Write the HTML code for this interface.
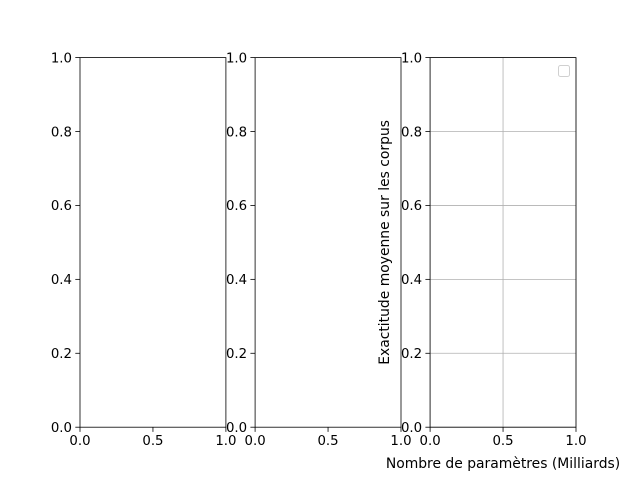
<!DOCTYPE html>
<html><head><meta charset="utf-8"><style>
html,body{margin:0;padding:0;background:#fff;}
svg{display:block;font-family:"DejaVu Sans","Liberation Sans",sans-serif;}
</style></head><body>
<svg id="fig" width="640" height="480" viewBox="0 0 640 480">
<rect x="0" y="0" width="640" height="480" fill="#fff"/>
</svg>
<script>
const xTicks = [0, 0.5, 1];
const xTickLabels = ["0.0", "0.5", "1.0"];
const yTicks = [0, 0.2, 0.4, 0.6, 0.8, 1.0];
const yTickLabels = ["0.0", "0.2", "0.4", "0.6", "0.8", "1.0"];
const panels = [
  {name:"subplot-1", x0:80, x1:225.9, grid:false},
  {name:"subplot-2", x0:255.1, x1:401.0, grid:false},
  {name:"subplot-3", x0:430.1, x1:576, grid:true}
];
const NS = "http://www.w3.org/2000/svg";
const svg = document.getElementById("fig");
const plotTop = 57.6, plotBottom = 427.2;
function mk(tag, attrs, parent){const e=document.createElementNS(NS,tag);for(const k in attrs)e.setAttribute(k,attrs[k]);(parent||svg).appendChild(e);return e;}
panels.forEach(p=>{
  const g = mk("g",{});
  
  
  const sx = v => p.x0 + v*(p.x1-p.x0);
  const sy = v => plotBottom - v*(plotBottom-plotTop);
  if(p.grid){
    xTicks.forEach(v=>mk("line",{x1:sx(v),x2:sx(v),y1:plotTop,y2:plotBottom,stroke:"#b0b0b0","stroke-width":0.8},g));
    yTicks.forEach(v=>mk("line",{x1:p.x0,x2:p.x1,y1:sy(v),y2:sy(v),stroke:"#b0b0b0","stroke-width":0.8},g));
  }
  mk("rect",{x:p.x0,y:plotTop,width:p.x1-p.x0,height:plotBottom-plotTop,fill:"none",stroke:"#000","stroke-width":0.8},g);
  xTicks.forEach((v,i)=>{
    mk("line",{x1:sx(v),x2:sx(v),y1:plotBottom,y2:plotBottom+4.7,stroke:"#000","stroke-width":0.8},g);
    const t=mk("text",{x:sx(v),y:plotBottom+18,"text-anchor":"middle","font-size":"13.3px",fill:"#000"},g);
    t.textContent=xTickLabels[i];
    
    
  });
  yTicks.forEach((v,i)=>{
    mk("line",{x1:p.x0-4.7,x2:p.x0,y1:sy(v),y2:sy(v),stroke:"#000","stroke-width":0.8},g);
    const t=mk("text",{x:p.x0-8,y:sy(v)+4.8,"text-anchor":"end","font-size":"13.3px",fill:"#000"},g);
    t.textContent=yTickLabels[i];
    
    
  });
});
const leg = mk("rect",{x:558.5,y:65.5,width:11,height:11,rx:2,fill:"#fff",stroke:"#d0d0d0","stroke-width":1});


const yl = mk("text",{x:0,y:0,"text-anchor":"middle","font-size":"13.9px",fill:"#000",transform:"translate(389,242.4) rotate(-90)"});
yl.textContent="Exactitude moyenne sur les corpus";


const xl = mk("text",{x:503,y:468,"text-anchor":"middle","font-size":"13.9px",fill:"#000"});
xl.textContent="Nombre de paramètres (Milliards)";


</script>
</body></html>
